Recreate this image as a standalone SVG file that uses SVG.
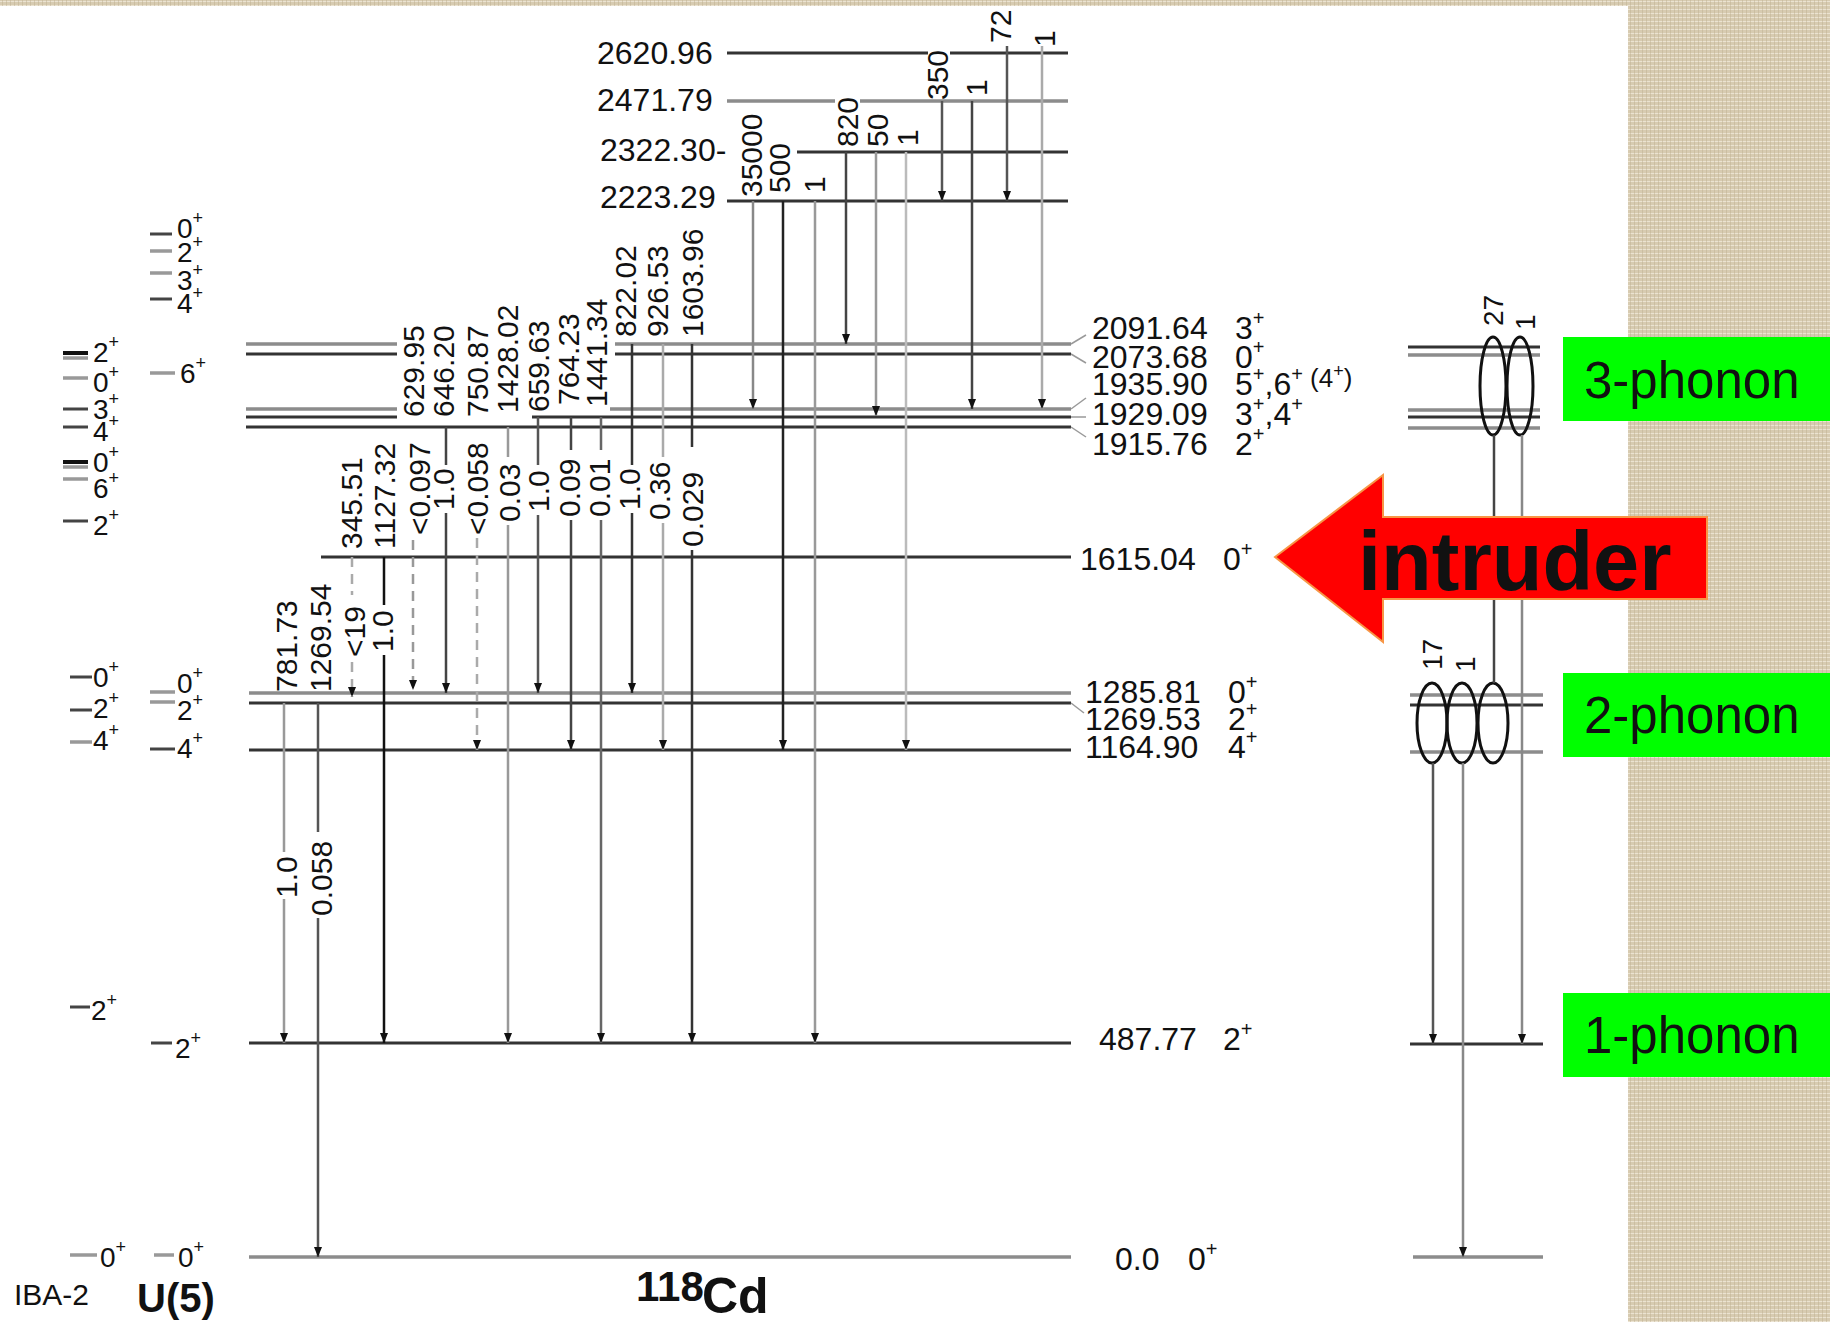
<svg xmlns="http://www.w3.org/2000/svg" width="1830" height="1322" viewBox="0 0 1830 1322">
<defs>
<pattern id="linen" width="8" height="8" patternUnits="userSpaceOnUse">
<rect width="8" height="8" fill="#d7cbb1"/>
<path d="M0 1.5H8M0 5.5H8" stroke="#ebe3d1" stroke-width="1"/>
<path d="M2.5 0V8M6.5 0V8" stroke="#bfb091" stroke-width="0.8" opacity="0.6"/>
</pattern>
<marker id="ah" viewBox="0 0 10 8" refX="10" refY="4" markerWidth="10" markerHeight="8" markerUnits="userSpaceOnUse" orient="auto">
<path d="M0,0 L10,4 L0,8 z" fill="#111"/>
</marker>
</defs>
<style>
text{font-family:"Liberation Sans",Arial,sans-serif;fill:#111}
.lv{stroke:#333;stroke-width:3;fill:none}
.lg{stroke:#8c8c8c;stroke-width:3.5;fill:none}
.cn{stroke:#999;stroke-width:1.5;fill:none}
.el{font-size:32px}
.rl{font-size:30px}
.ib{font-size:28px}
.tr{stroke-width:2.5;fill:none}
.ds{stroke-dasharray:10 7}
.ph{font-size:51px}
.dash{stroke:#444;stroke-width:3;fill:none}
.dashg{stroke:#999;stroke-width:3.5;fill:none}
</style>

<!-- background -->
<rect width="1830" height="1322" fill="url(#linen)"/>
<rect x="0" y="6" width="1628" height="1316" fill="#ffffff"/>

<!-- levels -->
<g id="lvl-2620">
<path class="lv" d="M727 53H928M950 53H1068"/>
<text class="el" x="597" y="64">2620.96</text>
</g>
<g id="lvl-2471">
<path class="lg" d="M727 101H835M860 101H1068"/>
<text class="el" x="597" y="111">2471.79</text>
</g>
<g id="lvl-2322">
<path class="lv" d="M797 152H1068"/>
<text class="el" x="600" y="161">2322.30-</text>
</g>
<g id="lvl-2223">
<path class="lv" d="M727 201H1068"/>
<text class="el" x="600" y="208">2223.29</text>
</g>
<g id="lvl-2091">
<path class="lg" d="M246 344H397M615 344H1071"/>
<path class="cn" d="M1071 344L1086 335"/>
<text class="el" x="1092" y="339">2091.64</text>
<text class="el" x="1235" y="339">3<tspan dy="-14" font-size="20">+</tspan></text>
</g>
<g id="lvl-2073">
<path class="lv" d="M246 354H397M615 354H1071"/>
<path class="cn" d="M1071 354L1086 363"/>
<text class="el" x="1092" y="368">2073.68</text>
<text class="el" x="1235" y="368">0<tspan dy="-14" font-size="20">+</tspan></text>
</g>
<g id="lvl-1935">
<path class="lg" d="M246 409H397M610 409H1071"/>
<path class="cn" d="M1071 409L1086 398"/>
<text class="el" x="1092" y="395">1935.90</text>
<text class="el" x="1235" y="395">5<tspan dy="-14" font-size="20">+</tspan><tspan dy="14">,6</tspan><tspan dy="-14" font-size="20">+</tspan><tspan dy="6" font-size="26"> (4</tspan><tspan dy="-10" font-size="18">+</tspan><tspan dy="10" font-size="26">)</tspan></text>
</g>
<g id="lvl-1929">
<path class="lv" d="M246 417H397M532 417H1071"/>
<path class="cn" d="M1071 417H1086"/>
<text class="el" x="1092" y="425">1929.09</text>
<text class="el" x="1235" y="425">3<tspan dy="-14" font-size="20">+</tspan><tspan dy="14">,4</tspan><tspan dy="-14" font-size="20">+</tspan></text>
</g>
<g id="lvl-1915">
<path class="lv" d="M246 427H1071"/>
<path class="cn" d="M1071 427L1086 437"/>
<text class="el" x="1092" y="455">1915.76</text>
<text class="el" x="1235" y="455">2<tspan dy="-14" font-size="20">+</tspan></text>
</g>
<g id="lvl-1615">
<path class="lv" d="M321 557H1071" stroke="#555"/>
<text class="el" x="1080" y="570">1615.04</text>
<text class="el" x="1223" y="570">0<tspan dy="-14" font-size="20">+</tspan></text>
</g>
<g id="lvl-1285">
<path class="lg" d="M249 693H1071"/>
<text class="el" x="1085" y="703">1285.81</text>
<text class="el" x="1228" y="703">0<tspan dy="-14" font-size="20">+</tspan></text>
</g>
<g id="lvl-1269">
<path class="lv" d="M249 703H1071"/>
<path class="cn" d="M1071 703L1084 713"/>
<text class="el" x="1085" y="730">1269.53</text>
<text class="el" x="1228" y="730">2<tspan dy="-14" font-size="20">+</tspan></text>
</g>
<g id="lvl-1164">
<path class="lv" d="M249 750H1071"/>
<text class="el" x="1085" y="758">1164.90</text>
<text class="el" x="1228" y="758">4<tspan dy="-14" font-size="20">+</tspan></text>
</g>
<g id="lvl-487">
<path class="lv" d="M249 1043H1071"/>
<text class="el" x="1099" y="1050">487.77</text>
<text class="el" x="1223" y="1050">2<tspan dy="-14" font-size="20">+</tspan></text>
</g>
<g id="lvl-0">
<path class="lg" d="M249 1257H1071"/>
<text class="el" x="1115" y="1270">0.0</text>
<text class="el" x="1188" y="1270">0<tspan dy="-14" font-size="20">+</tspan></text>
</g>

<!-- transitions -->
<g id="connectors" marker-end="url(#ah)">
<path class="tr" stroke="#999" d="M284 703V852M284 899V1043"/>
<path class="tr" stroke="#555" d="M318 703V832M318 918V1257"/>
<path class="tr ds" stroke="#aaa" d="M352 557V595M352 662V697"/>
<path class="tr" stroke="#111" d="M384 557V605M384 655V1043"/>
<path class="tr ds" stroke="#999" d="M413 540V690"/>
<path class="tr" stroke="#444" d="M446 427V465M446 513V693"/>
<path class="tr ds" stroke="#aaa" d="M477 538V750"/>
<path class="tr" stroke="#999" d="M508 427V457M508 525V1043"/>
<path class="tr" stroke="#555" d="M538 417V465M538 515V693"/>
<path class="tr" stroke="#444" d="M571 417V450M571 520V750"/>
<path class="tr" stroke="#666" d="M601 417V450M601 520V1043"/>
<path class="tr" stroke="#333" d="M632 344V465M632 513V693"/>
<path class="tr" stroke="#aaa" d="M663 344V457M663 523V750"/>
<path class="tr" stroke="#333" d="M692 344V447M692 550V1043"/>
<path class="tr" stroke="#888" d="M753 201V409"/>
<path class="tr" stroke="#222" d="M783 201V750"/>
<path class="tr" stroke="#999" d="M815 201V1043"/>
<path class="tr" stroke="#444" d="M846 152V344"/>
<path class="tr" stroke="#999" stroke-width="4" d="M876 152V416"/>
<path class="tr" stroke="#bbb" stroke-width="4" d="M906 152V750"/>
<path class="tr" stroke="#555" d="M942 101V201"/>
<path class="tr" stroke="#444" d="M972 101V409"/>
<path class="tr" stroke="#555" d="M1007 46V201"/>
<path class="tr" stroke="#aaa" d="M1042 46V409"/>
</g>

<!-- transition labels -->
<g id="tlabels" class="rl">
<text transform="translate(762 197) rotate(-90)">35000</text>
<text transform="translate(790 193) rotate(-90)">500</text>
<text transform="translate(825 193) rotate(-90)">1</text>
<text transform="translate(858 147) rotate(-90)">820</text>
<text transform="translate(888 147) rotate(-90)">50</text>
<text transform="translate(918 146) rotate(-90)">1</text>
<text transform="translate(948 100) rotate(-90)">350</text>
<text transform="translate(987 96) rotate(-90)">1</text>
<text transform="translate(1011 43) rotate(-90)">72</text>
<text transform="translate(1055 47) rotate(-90)">1</text>

<text transform="translate(424 417) rotate(-90)">629.95</text>
<text transform="translate(454 417) rotate(-90)">646.20</text>
<text transform="translate(488 417) rotate(-90)">750.87</text>
<text transform="translate(518 413) rotate(-90)">1428.02</text>
<text transform="translate(549 412) rotate(-90)">659.63</text>
<text transform="translate(579 405) rotate(-90)">764.23</text>
<text transform="translate(607 407) rotate(-90)">1441.34</text>
<text transform="translate(636 337) rotate(-90)">822.02</text>
<text transform="translate(668 337) rotate(-90)">926.53</text>
<text transform="translate(703 337) rotate(-90)">1603.96</text>

<text transform="translate(430 535) rotate(-90)">&lt;0.097</text>
<text transform="translate(454 510) rotate(-90)">1.0</text>
<text transform="translate(488 535) rotate(-90)">&lt;0.058</text>
<text transform="translate(520 522) rotate(-90)">0.03</text>
<text transform="translate(549 512) rotate(-90)">1.0</text>
<text transform="translate(580 517) rotate(-90)">0.09</text>
<text transform="translate(610 517) rotate(-90)">0.01</text>
<text transform="translate(640 510) rotate(-90)">1.0</text>
<text transform="translate(670 520) rotate(-90)">0.36</text>
<text transform="translate(703 547) rotate(-90)">0.029</text>

<text transform="translate(362 549) rotate(-90)">345.51</text>
<text transform="translate(395 549) rotate(-90)">1127.32</text>
<text transform="translate(365 657) rotate(-90)">&lt;19</text>
<text transform="translate(393 652) rotate(-90)">1.0</text>
<text transform="translate(297 692) rotate(-90)">781.73</text>
<text transform="translate(331 692) rotate(-90)">1269.54</text>
<text transform="translate(297 898) rotate(-90)">1.0</text>
<text transform="translate(332 916) rotate(-90)">0.058</text>
</g>

<!-- IBA-2 / U(5) model levels -->
<g id="iba-model" class="ib">
<path class="dash" d="M150 234H172M150 299H172M63 409H88M63 427H88M63 521H88M70 677H92M70 710H92M150 749H175M70 1007H90M151 1043H172"/>
<path class="dashg" d="M150 251H172M150 273H172M150 373H175M63 358H88M63 378H88M63 467H88M63 479H88M70 742H92M150 692H175M150 702H175M70 1255H97M154 1255H174"/>
<path stroke="#111" stroke-width="4" fill="none" d="M63 353H88M63 462H88"/>
<text x="177" y="238">0<tspan dy="-14" font-size="18">+</tspan></text>
<text x="177" y="262">2<tspan dy="-14" font-size="18">+</tspan></text>
<text x="177" y="290">3<tspan dy="-14" font-size="18">+</tspan></text>
<text x="177" y="313">4<tspan dy="-14" font-size="18">+</tspan></text>
<text x="180" y="383">6<tspan dy="-14" font-size="18">+</tspan></text>
<text x="93" y="362">2<tspan dy="-14" font-size="18">+</tspan></text>
<text x="93" y="392">0<tspan dy="-14" font-size="18">+</tspan></text>
<text x="93" y="419">3<tspan dy="-14" font-size="18">+</tspan></text>
<text x="93" y="441">4<tspan dy="-14" font-size="18">+</tspan></text>
<text x="93" y="472">0<tspan dy="-14" font-size="18">+</tspan></text>
<text x="93" y="498">6<tspan dy="-14" font-size="18">+</tspan></text>
<text x="93" y="535">2<tspan dy="-14" font-size="18">+</tspan></text>
<text x="93" y="687">0<tspan dy="-14" font-size="18">+</tspan></text>
<text x="93" y="718">2<tspan dy="-14" font-size="18">+</tspan></text>
<text x="93" y="750">4<tspan dy="-14" font-size="18">+</tspan></text>
<text x="177" y="693">0<tspan dy="-14" font-size="18">+</tspan></text>
<text x="177" y="720">2<tspan dy="-14" font-size="18">+</tspan></text>
<text x="177" y="758">4<tspan dy="-14" font-size="18">+</tspan></text>
<text x="91" y="1020">2<tspan dy="-14" font-size="18">+</tspan></text>
<text x="175" y="1058">2<tspan dy="-14" font-size="18">+</tspan></text>
<text x="100" y="1267">0<tspan dy="-14" font-size="18">+</tspan></text>
<text x="178" y="1267">0<tspan dy="-14" font-size="18">+</tspan></text>
<text x="14" y="1305" font-size="30">IBA-2</text>
<text x="137" y="1312" font-size="40" font-weight="bold">U(5)</text>
</g>

<g id="title">
<text x="636" y="1301" font-size="42" font-weight="bold">118</text>
<text x="702" y="1313" font-size="50" font-weight="bold">Cd</text>
</g>

<!-- phonon scheme -->
<g id="phonon-scheme">
<path class="lv" d="M1408 347H1540M1408 417H1540M1410 705H1543M1410 1044H1543"/>
<path class="lg" d="M1408 355H1540M1408 410H1540M1408 428H1540M1410 695H1543M1410 752H1543M1413 1257H1543"/>
<g fill="none" stroke="#111" stroke-width="3">
<ellipse cx="1493" cy="386" rx="13" ry="49"/>
<ellipse cx="1520" cy="386" rx="13" ry="49"/>
<ellipse cx="1432" cy="723" rx="15" ry="40"/>
<ellipse cx="1462" cy="723" rx="15" ry="40"/>
<ellipse cx="1493" cy="723" rx="15" ry="40"/>
</g>
<path class="tr" stroke="#444" d="M1494 435V683"/>
<path class="tr" stroke="#888" d="M1522 435V1044" marker-end="url(#ah)"/>
<path class="tr" stroke="#555" d="M1433 763V1044" marker-end="url(#ah)"/>
<path class="tr" stroke="#888" d="M1463 763V1257" marker-end="url(#ah)"/>
<g>
<text transform="translate(1503 326) rotate(-90)" style="font-size:28px">27</text>
<text transform="translate(1535 330) rotate(-90)" style="font-size:28px">1</text>
<text transform="translate(1442 670) rotate(-90)" style="font-size:28px">17</text>
<text transform="translate(1475 672) rotate(-90)" style="font-size:28px">1</text>
</g>
</g>

<!-- intruder arrow -->
<g id="intruder">
<polygon points="1275,557 1383,475 1383,517 1707,517 1707,599 1383,599 1383,642" fill="#ff0000" stroke="#f79646" stroke-width="2"/>
<text x="1358" y="590" font-size="83" font-weight="bold" fill="#000">intruder</text>
</g>

<!-- phonon boxes -->
<g id="box-3ph">
<rect x="1563" y="337" width="267" height="84" fill="#00ff00"/>
<text class="ph" x="1584" y="398" fill="#000">3-phonon</text>
</g>
<g id="box-2ph">
<rect x="1563" y="673" width="267" height="84" fill="#00ff00"/>
<text class="ph" x="1584" y="733" fill="#000">2-phonon</text>
</g>
<g id="box-1ph">
<rect x="1563" y="993" width="267" height="84" fill="#00ff00"/>
<text class="ph" x="1584" y="1053" fill="#000">1-phonon</text>
</g>
</svg>
